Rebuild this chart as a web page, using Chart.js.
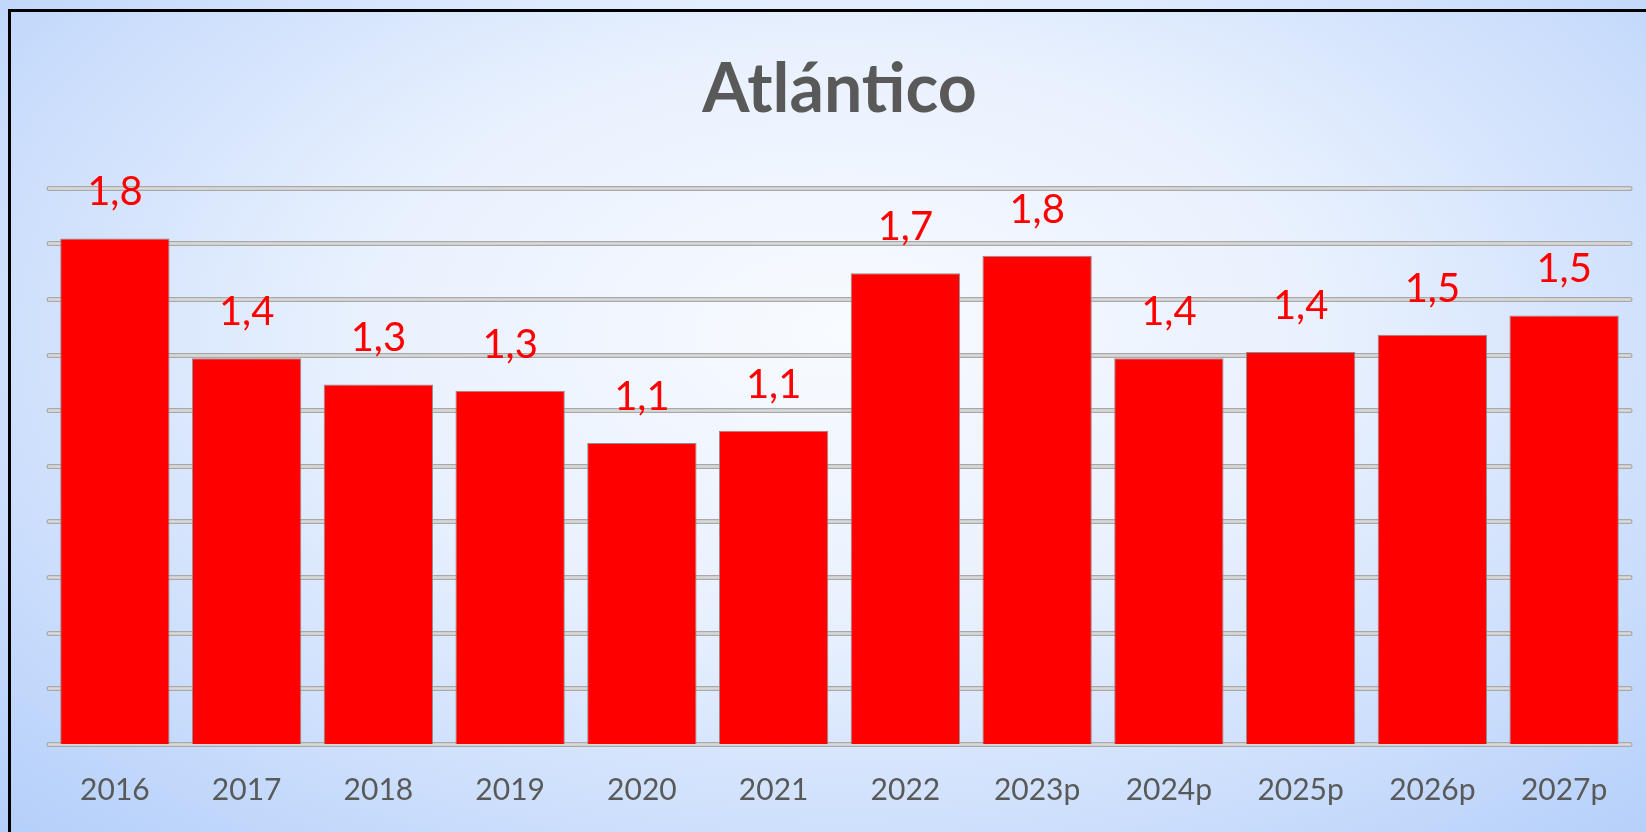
<!DOCTYPE html>
<html>
<head>
<meta charset="utf-8">
<title>Atlántico</title>
<script src="https://cdn.jsdelivr.net/npm/chart.js@4/dist/chart.umd.min.js"></script>
<style>
  html, body { margin: 0; padding: 0; overflow: hidden; width: 1646px; height: 832px; }
  body {
    position: relative;
    background: radial-gradient(ellipse farthest-corner at 51% 40%, #f8fbff 0%, #e9f1fe 40%, #b4cffa 100%);
  }
  .frame {
    position: absolute; left: 8px; top: 9px; width: 1700px; height: 900px;
    border-left: 3px solid #000; border-top: 3px solid #000;
  }
  #chart { position: absolute; left: 0; top: 0; }
</style>
</head>
<body>
<div class="frame"></div>
<canvas id="chart" width="1646" height="832"></canvas>
<script>
  // values
  const years = ['2016', '2017', '2018', '2019', '2020', '2021', '2022', '2023p', '2024p', '2025p', '2026p', '2027p'];
  const values = [1.817, 1.387, 1.292, 1.270, 1.082, 1.126, 1.692, 1.755, 1.387, 1.409, 1.471, 1.540];
  const yMax = 2;
  const yStep = 0.2;

  const RED = '#ff0000';
  const GREY_TEXT = '#595959';
  const fmt = (n) => n.toFixed(1).replace('.', ',');

  // double (embossed) grid lines like the original
  const gridPlugin = {
    id: 'embossGrid',
    beforeDatasetsDraw(chart) {
      const { ctx, chartArea } = chart;
      const y = chart.scales.y;
      ctx.save();
      ctx.lineCap = 'round';
      y.ticks.forEach(t => {
        const py = Math.round(y.getPixelForValue(t.value)) + 0.5;
        ctx.beginPath();
        ctx.moveTo(chartArea.left, py);
        ctx.lineTo(chartArea.right, py);
        ctx.strokeStyle = '#a9a9a9';
        ctx.lineWidth = 5;
        ctx.stroke();
        ctx.strokeStyle = '#dadada';
        ctx.lineWidth = 2.5;
        ctx.stroke();
      });
      ctx.restore();
    }
  };

  const labelPlugin = {
    id: 'barLabels',
    afterDatasetsDraw(chart) {
      const { ctx } = chart;
      const meta = chart.getDatasetMeta(0);
      ctx.save();
      ctx.font = '40px Lato';
      ctx.fillStyle = RED;
      ctx.textAlign = 'center';
      ctx.textBaseline = 'middle';
      meta.data.forEach((bar, i) => {
        ctx.fillText(fmt(values[i]), bar.x, bar.y - 46);
      });
      ctx.restore();
    }
  };

  new Chart(document.getElementById('chart'), {
    type: 'bar',
    data: {
      labels: years,
      datasets: [{
        data: values,
        backgroundColor: RED,
        borderColor: '#8f8f8f',
        borderWidth: 1,
        categoryPercentage: 0.83,
        barPercentage: 1
      }]
    },
    options: {
      responsive: false, animation: false,
      layout: { padding: { left: 49, right: 16, top: 10, bottom: 24 } },
      plugins: {
        legend: { display: false },
        tooltip: { enabled: false },
        title: {
          display: true, text: 'Atlántico', color: GREY_TEXT,
          font: { family: 'Lato', size: 68, weight: 'bold' },
          padding: { top: 39, bottom: 57 }
        }
      },
      scales: {
        y: { display: false, min: 0, max: yMax, ticks: { stepSize: yStep } },
        x: {
          grid: { display: false, drawTicks: false },
          border: { display: false },
          ticks: { color: GREY_TEXT, font: { family: 'Lato', size: 30 }, padding: 28 },
          afterFit: (s) => { s.height = 64; } // padding is counted twice otherwise
        }
      }
    },
    plugins: [gridPlugin, labelPlugin]
  });
</script>
</body>
</html>
